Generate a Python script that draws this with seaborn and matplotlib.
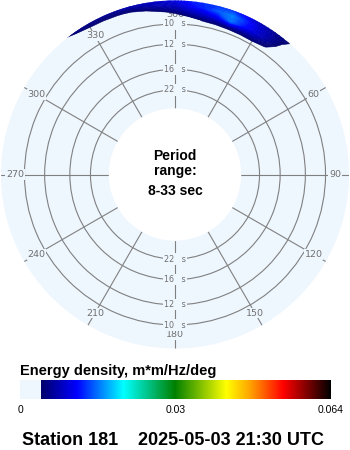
import numpy as np
import matplotlib
matplotlib.use("Agg")
import matplotlib.pyplot as plt
import seaborn as sns
from matplotlib.colors import LinearSegmentedColormap, Normalize
from matplotlib.cm import ScalarMappable

# ---------------- data ----------------
directions_deg = [-45, -40, -35, -30, -25, -20, -15, -10, -5, 0, 5, 10, 15, 20, 25, 30, 35, 40, 45]
frequencies_hz = [0.095, 0.100, 0.105, 0.110, 0.115, 0.120]
# energy density (m*m/Hz/deg) for each frequency row, across directions
e_f095 = [0, 0, 0, 0, 0, 0, 0, 0, 0, 0, 0, 0, 0, 0, 0, 0, 0, 0, 0]
e_f100 = [0, 0, 0, 0, 0, 0, 0, 0, 0, 0, 0, .002, .002, .002, .002, .002, .002, .001, 0]
e_f105 = [0, 0, 0, 0, 0, 0, 0, 0, .001, .002, .003, .0046, .0050, .0055, .0058, .0060, .0046, .002, 0]
e_f110 = [0, 0, 0, .001, .002, .002, .003, .002, .0038, .0051, .0073, .0090, .0110, .0160, .0120, .0095, .0065, .003, 0]
e_f115 = [0, .001, .002, .0038, .0040, .0042, .00444, .0061, .0074, .0085, .0110, .0130, .0150, .0165, .0130, .0095, .0070, .00405, .001]
e_f120 = [.001, .0035, .0061, .0061, .0065, .0070, .0080, .0088, .0095, .0105, .0125, .0135, .0135, .0130, .0105, .0080, .0065, .0053, .002]

period_rings_s = [10, 12, 16, 22]
angle_labels = [360, 30, 60, 90, 120, 150, 180, 210, 240, 270, 300, 330]
period_min_s, period_max_s = 8, 33
energy_min, energy_max = 0.0, 0.064
threshold = 0.0043
cbar_ticks = [0.0, 0.032, 0.064]
cbar_ticklabels = ["0", "0.03", "0.064"]
station = "Station 181"
timestamp = "2025-05-03 21:30 UTC"

# ---------------- style ----------------
disk_color = "#eef6fe"
grid_color = "#808080"
label_color = "#707070"
cmap_nodes = [0.0, 0.00425, 0.0043, 0.0117, 0.0165, 0.0213, 0.0319, 0.0425, 0.0475, 0.0542, 0.0597, 0.064]
cmap_colors = ["#eef6fe", "#eef6fe", "#00006a", "#0000ff", "#0080ff", "#00ffff", "#008000",
               "#ffff00", "#ffa000", "#ff0000", "#700000", "#000000"]
cmap = LinearSegmentedColormap.from_list(
    "cdip", [(v / energy_max, c) for v, c in zip(cmap_nodes, cmap_colors)], N=512)
norm = Normalize(energy_min, energy_max)

sns.set_theme(style="white")
plt.rcParams["font.family"] = ["Liberation Sans", "DejaVu Sans"]

W, H = 350, 450
fig = plt.figure(figsize=(W / 100, H / 100), dpi=100, facecolor="white")

def fx(x):
    return x / W

def fy(y):
    return 1 - y / H

# polar axes: centre (175, 174.5) px, radius 174 px
R = 174
cx, cy = 175, 174.5
ax = fig.add_axes([fx(cx - R), fy(cy + R), 2 * R / W, 2 * R / H], projection="polar")
ax.set_facecolor(disk_color)
ax.set_theta_zero_location("N")
ax.set_theta_direction(-1)

Z = np.array([e_f095, e_f100, e_f105, e_f110, e_f115, e_f120])
TH = np.deg2rad(directions_deg)
levels = np.linspace(threshold, energy_max, 140)
cs = ax.contourf(TH, frequencies_hz, Z, levels=levels, cmap=cmap, norm=norm,
                 antialiased=True, zorder=3)
cs.set_edgecolor("face")
cs.set_linewidth(0.4)

f_outer = 0.1194
ax.set_ylim(1 / period_max_s, f_outer)
ax.set_rorigin(-0.0244)

ax.set_xticks(np.deg2rad(np.arange(0, 360, 30)))
ax.set_yticks([1 / p for p in period_rings_s])
ax.set_xticklabels([])
ax.set_yticklabels([])
ax.tick_params(length=0)
ax.grid(True, color=grid_color, linewidth=0.8, linestyle="-")
ax.set_axisbelow(True)
for s in ax.spines.values():
    s.set_linewidth(0)
    s.set_edgecolor("none")

f_label = 0.10785
for a in angle_labels:
    ax.text(np.deg2rad(a % 360), f_label, str(a), ha="center", va="center",
            fontsize=6.8, color=label_color, family="DejaVu Sans", zorder=2,
            bbox=dict(facecolor=disk_color, edgecolor="none", pad=0.6))
for p in period_rings_s:
    for th in (0.0, np.pi):
        ax.text(th, 1 / p, f"{p}   s", ha="center", va="center",
                fontsize=5.8, color=label_color, family="DejaVu Sans", zorder=2,
                bbox=dict(facecolor=disk_color, edgecolor="none", pad=0.8))

# centre text
fig.text(fx(175), fy(160), "Period", ha="center", va="baseline", fontsize=10, fontweight="bold", color="black")
fig.text(fx(175), fy(175), "range:", ha="center", va="baseline", fontsize=10, fontweight="bold", color="black")
fig.text(fx(175), fy(195), f"{period_min_s}-{period_max_s} sec", ha="center", va="baseline",
         fontsize=10, fontweight="bold", color="black")

# colorbar
fig.text(fx(20), fy(375), "Energy density, m*m/Hz/deg", ha="left", va="baseline",
         fontsize=10.5, fontweight="bold", color="black")
cax = fig.add_axes([fx(20), fy(399), 311 / W, 19 / H])
cb = fig.colorbar(ScalarMappable(norm=norm, cmap=cmap), cax=cax, orientation="horizontal",
                  ticks=cbar_ticks)
cb.set_ticklabels(cbar_ticklabels)
cb.outline.set_visible(False)
cax.tick_params(length=0, pad=4, labelsize=7.5, colors="black")

# footer
fig.text(fx(21.5), fy(445), station, ha="left", va="baseline", fontsize=13, fontweight="bold", color="black")
fig.text(fx(138.3), fy(445), timestamp, ha="left", va="baseline", fontsize=13, fontweight="bold", color="black")

fig.savefig("out.png", dpi=100, facecolor="white")
